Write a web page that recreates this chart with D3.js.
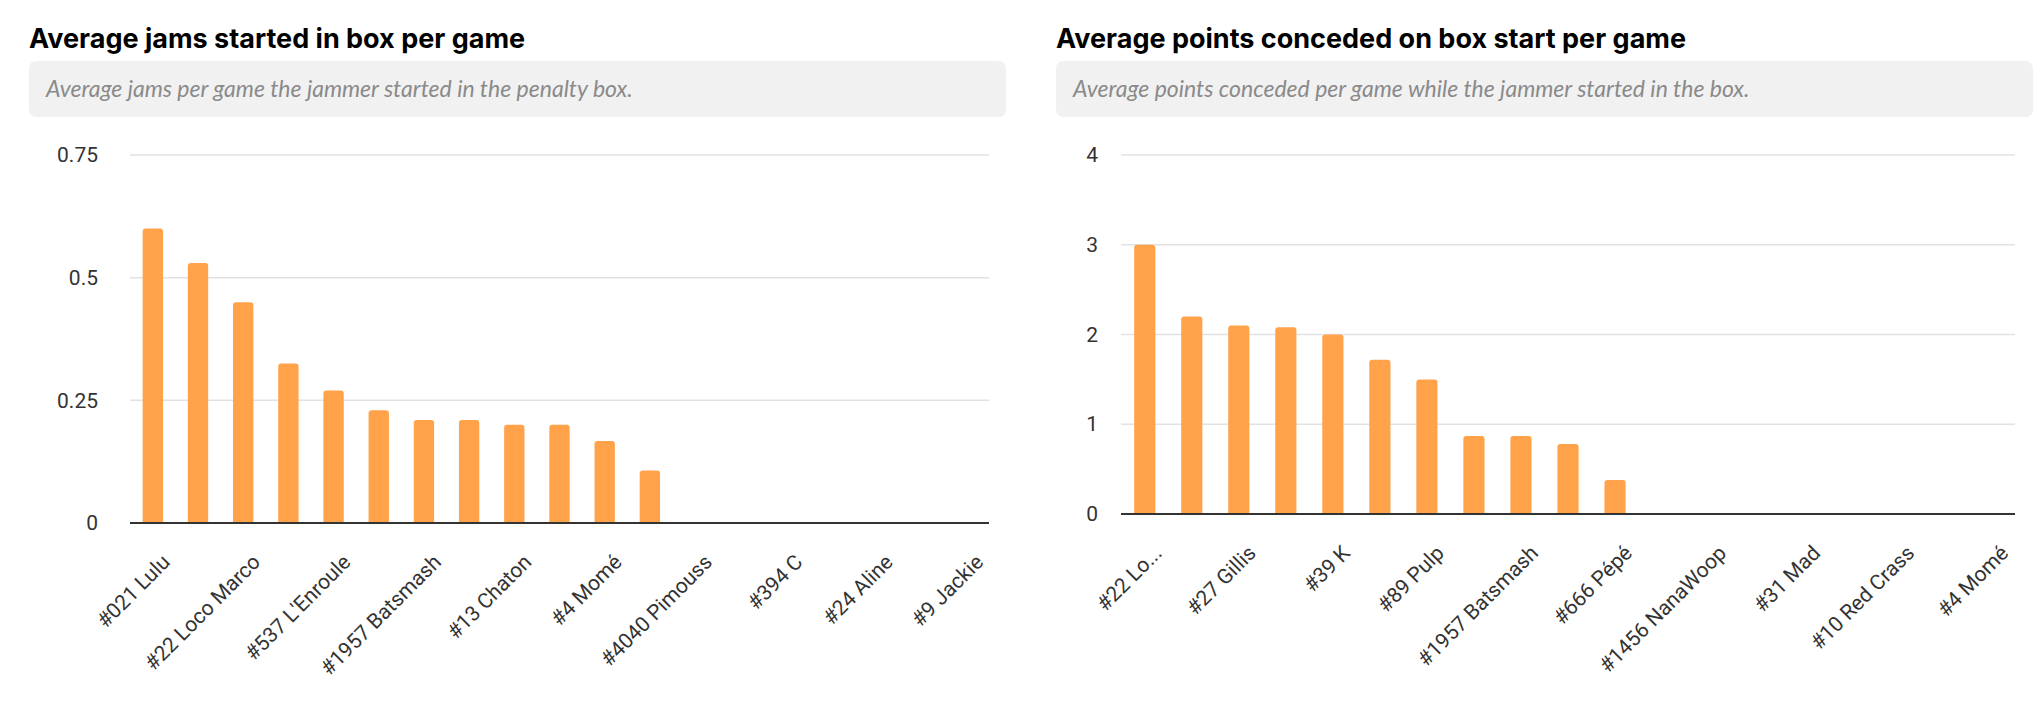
<!DOCTYPE html>
<html><head><meta charset="utf-8">
<script src="https://cdn.jsdelivr.net/npm/d3@7"></script>
<style>body{margin:0;background:#fff}svg{display:block}</style>
</head><body>
<svg id="c" width="2044" height="720"></svg>
<script>
// left chart: jams started in box
var jamNames = ["#021 Lulu","#7 Roxy","#22 Loco Marco","#31 Mad","#537 L'Enroule","#27 Gillis","#1957 Batsmash","#39 K","#13 Chaton","#89 Pulp","#4 Momé","#666 Pépé","#4040 Pimouss","#1456 NanaWoop","#394 C","#10 Red Crass","#24 Aline","#12 Zaza","#9 Jackie"];
var jamValues = [0.6,0.53,0.45,0.325,0.27,0.23,0.21,0.21,0.2,0.2,0.167,0.107,0,0,0,0,0,0,0];
var jamTicks = [0,0.25,0.5,0.75];

// right chart: points conceded
var ptsNames = ["#22 Lo...","#021 Lulu","#27 Gillis","#13 Chaton","#39 K","#537 L'Enroule","#89 Pulp","#7 Roxy","#1957 Batsmash","#4040 Pimouss","#666 Pépé","#394 C","#1456 NanaWoop","#24 Aline","#31 Mad","#9 Jackie","#10 Red Crass","#12 Zaza","#4 Momé"];
var ptsValues = [3,2.2,2.1,2.08,2,1.72,1.5,0.87,0.87,0.78,0.38,0,0,0,0,0,0,0,0];
var ptsTicks = [0,1,2,3,4];

var svg = d3.select("#c");
var titleFont = "Inter, 'Open Sans', sans-serif";

function panel(o){
  var g = svg.append("g");
  g.append("text").attr("x", o.x0).attr("y", 48)
    .style("font-family", titleFont).style("font-weight", 700).style("font-size", "27px")
    .attr("fill", "#000").text(o.title);
  g.append("rect").attr("x", o.x0).attr("y", 61).attr("width", o.boxW).attr("height", 56)
    .attr("rx", 7).attr("fill", "#f1f1f1");
  g.append("text").attr("x", o.x0 + 17).attr("y", 97)
    .style("font-family", "Lato, 'Open Sans', sans-serif").style("font-style", "italic")
    .style("font-size", "23px").attr("fill", "#8a8a8a").text(o.sub);

  var x = d3.scaleBand().domain(o.names).range([o.px0, o.px1]).paddingInner(0.55).paddingOuter(0.28);
  var y = d3.scaleLinear().domain([0, d3.max(o.ticks)]).range([o.py0, 155]);

  g.selectAll(".grid").data(o.ticks.filter(function(t){return t > 0;})).enter().append("line")
    .attr("x1", o.px0).attr("x2", o.px1)
    .attr("y1", function(d){return y(d);}).attr("y2", function(d){return y(d);})
    .attr("stroke", "#e2e2e2").attr("stroke-width", 1.5);

  var ya = d3.axisLeft(y).tickValues(o.ticks).tickSize(0).tickPadding(0)
    .tickFormat(function(d){return String(d);});
  g.append("g").attr("transform", "translate(" + o.labX + ",0)").call(ya)
    .call(function(s){s.select(".domain").remove();})
    .selectAll("text").style("font-family", "Roboto, sans-serif").style("font-size", "21px").attr("fill", "#333");

  g.selectAll(".bar").data(o.values).enter().append("path")
    .attr("fill", "#ffa24a")
    .attr("d", function(d, i){
      var bx = x(o.names[i]), bw = x.bandwidth(), top = y(d), bot = y(0);
      if (d <= 0) return "";
      var r = Math.min(3, (bot - top) / 2);
      return "M" + bx + "," + bot + "V" + (top + r) + "Q" + bx + "," + top + " " + (bx + r) + "," + top +
        "H" + (bx + bw - r) + "Q" + (bx + bw) + "," + top + " " + (bx + bw) + "," + (top + r) + "V" + bot + "Z";
    });

  g.append("line").attr("x1", o.px0).attr("x2", o.px1).attr("y1", y(0)).attr("y2", y(0))
    .attr("stroke", "#333").attr("stroke-width", 2);

  g.selectAll(".xl").data(o.names.filter(function(d, i){return i % 2 === 0;})).enter().append("text")
    .attr("transform", function(d){
      return "translate(" + (x(d) + x.bandwidth() / 2 + 8) + "," + (y(0) + 30) + ") rotate(-45)";
    })
    .attr("text-anchor", "end").attr("dy", "0.7em")
    .style("font-family", "Roboto, sans-serif").style("font-size", "21px").attr("fill", "#333")
    .text(function(d){return d;});
}

panel({x0: 29, boxW: 977, title: "Average jams started in box per game",
  sub: "Average jams per game the jammer started in the penalty box.",
  names: jamNames, values: jamValues, ticks: jamTicks, px0: 130, px1: 989, py0: 523, labX: 98});
panel({x0: 1056, boxW: 977, title: "Average points conceded on box start per game",
  sub: "Average points conceded per game while the jammer started in the box.",
  names: ptsNames, values: ptsValues, ticks: ptsTicks, px0: 1121, px1: 2015, py0: 514, labX: 1098});
</script>
</body></html>
